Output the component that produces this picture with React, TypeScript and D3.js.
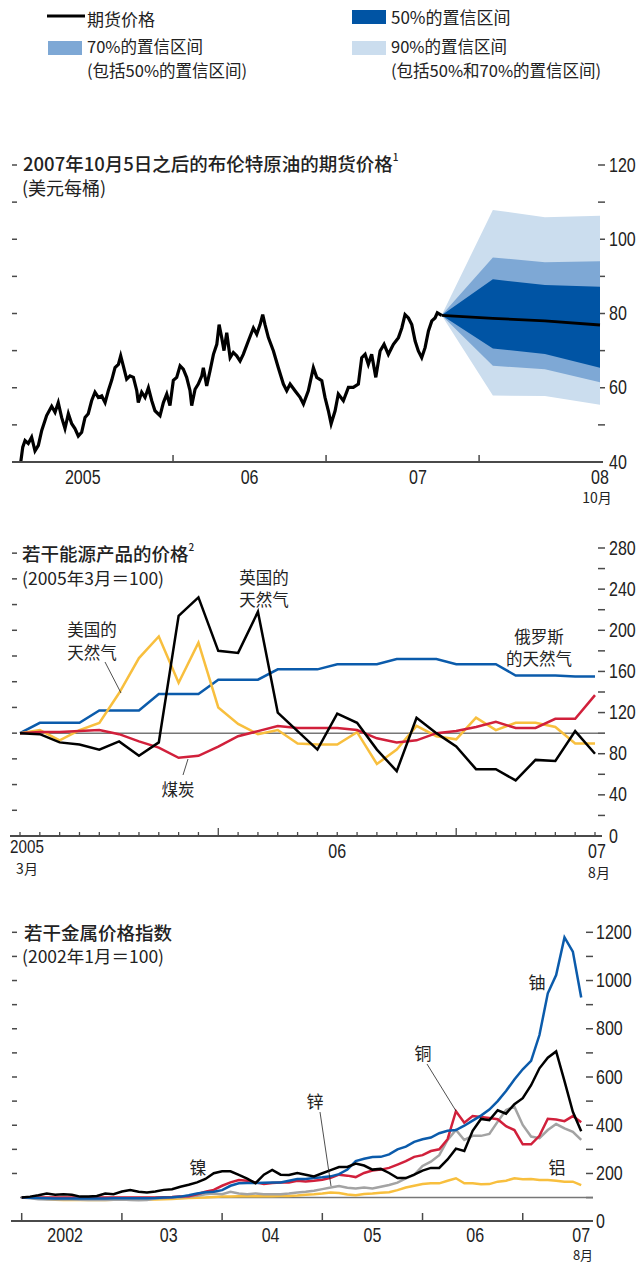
import React from "react";
import * as d3 from "d3";

// ---------- Panel 1: Brent futures ----------
const brentDates = [
  2005.005, 2005.018, 2005.033, 2005.054, 2005.076, 2005.098, 2005.12, 2005.142, 2005.174, 2005.207,
  2005.229, 2005.25, 2005.272, 2005.294, 2005.316, 2005.338, 2005.359, 2005.381, 2005.403, 2005.425,
  2005.446, 2005.468, 2005.49, 2005.512, 2005.534, 2005.556, 2005.577, 2005.599, 2005.621, 2005.643,
  2005.658, 2005.675, 2005.697, 2005.719, 2005.741, 2005.763, 2005.773, 2005.795, 2005.817, 2005.839,
  2005.861, 2005.882, 2005.915, 2005.937, 2005.959, 2005.98, 2006.002, 2006.024, 2006.046, 2006.067,
  2006.089, 2006.111, 2006.122, 2006.144, 2006.165, 2006.188, 2006.198, 2006.22, 2006.242, 2006.264,
  2006.286, 2006.301, 2006.318, 2006.333, 2006.351, 2006.373, 2006.394, 2006.416, 2006.438, 2006.459,
  2006.492, 2006.525, 2006.547, 2006.569, 2006.586, 2006.601, 2006.623, 2006.656, 2006.688, 2006.721,
  2006.743, 2006.765, 2006.797, 2006.83, 2006.852, 2006.884, 2006.917, 2006.939, 2006.972, 2006.993,
  2007.015, 2007.033, 2007.059, 2007.08, 2007.113, 2007.146, 2007.178, 2007.211, 2007.233, 2007.255,
  2007.276, 2007.298, 2007.325, 2007.353, 2007.379, 2007.407, 2007.44, 2007.473, 2007.495, 2007.516,
  2007.538, 2007.56, 2007.582, 2007.603, 2007.625, 2007.647, 2007.669, 2007.691, 2007.712, 2007.727,
  2007.755,
];
const brentPrices = [
  40.0, 44.0, 45.8, 45.0, 46.7, 43.0, 44.5, 48.5, 52.5, 55.0,
  53.4, 56.0, 52.0, 49.0, 53.0, 50.3, 49.0, 47.0, 48.0, 52.0,
  53.0, 56.5, 58.8, 57.4, 57.8, 56.0, 59.2, 62.0, 65.4, 66.3,
  68.6, 65.9, 62.3, 63.2, 62.8, 59.2, 56.0, 58.8, 57.4, 60.0,
  56.5, 53.8, 52.5, 56.0, 58.3, 55.2, 62.0, 62.8, 65.9, 65.0,
  62.8, 59.2, 55.2, 59.6, 61.0, 63.2, 65.4, 60.5, 64.6, 69.0,
  71.7, 77.0, 73.5, 70.0, 74.8, 68.1, 69.5, 68.6, 67.2, 69.0,
  72.6, 76.1, 74.4, 77.0, 79.7, 77.0, 73.5, 69.9, 65.4, 61.0,
  59.2, 61.0, 59.2, 57.4, 55.6, 59.2, 65.4, 62.8, 61.9, 57.4,
  53.8, 50.3, 53.8, 58.3, 56.5, 60.1, 60.1, 61.0, 68.1, 69.0,
  66.3, 69.0, 62.8, 69.9, 71.7, 69.0, 71.7, 73.5, 76.1, 79.7,
  78.8, 77.0, 72.6, 69.9, 68.1, 70.8, 75.3, 78.0, 78.8, 80.2,
  79.5,
];
const fanDates = [2007.755, 2008.09, 2008.43, 2008.79];
const fanMedian = [79.5, 78.7, 78.0, 76.9];
const band50Upper = [79.5, 89.2, 87.7, 87.2];
const band50Lower = [79.5, 70.6, 69.1, 65.4];
const band70Upper = [79.5, 95.1, 93.8, 94.1];
const band70Lower = [79.5, 65.9, 65.0, 61.5];
const band90Upper = [79.5, 107.9, 105.9, 106.3];
const band90Lower = [79.5, 57.9, 57.8, 55.4];
const p1YearTicks = [2006, 2007, 2008];
const p1YearLabels = ["2005", "06", "07", "08"];
const p1YearLabelDates = [2005.41, 2006.5, 2007.6, 2008.79];
const p1RightMajor = [40, 60, 80, 100, 120];
const p1Minor = [50, 60, 70, 80, 90, 100, 110, 120];

// ---------- Panel 2: energy (monthly, Mar 2005 - Aug 2007) ----------
const russianGas = [100, 110, 110, 110, 122, 122, 122, 138, 138, 138, 152, 152, 152, 162, 162, 162, 167, 167, 167, 172, 172, 172, 167, 167, 167, 156, 156, 156, 155, 155];
const usGas = [100, 103, 93, 103, 110, 139, 173, 194, 149, 188, 125, 109, 99, 103, 90, 89, 89, 101, 70, 84, 107, 97, 94, 115, 103, 110, 110, 106, 90, 90];
const ukGas = [100, 99, 91, 89, 84, 92, 78, 91, 214, 232, 180, 178, 218, 120, 102, 84, 119, 110, 84, 63, 115, 100, 87, 65, 65, 54, 74, 73, 102, 80];
const coal = [100, 101, 101, 102, 103, 99, 92, 86, 76, 78, 87, 97, 102, 107, 105, 105, 105, 103, 95, 91, 93, 100, 102, 106, 111, 105, 105, 114, 114, 137];
const p2YearTickMonths = [10, 22];
const p2RightMajor = [0, 40, 80, 120, 160, 200, 240, 280];
const p2RightMinor = [20, 60, 100, 140, 180, 220, 260];
const p2LeftTicks = [25, 50, 75, 100, 125, 150, 175, 200, 225, 250, 275];

// ---------- Panel 3: metals (monthly, Jan 2002 - Aug 2007) ----------
const nickel = [
  100, 104, 110, 117, 112, 114, 112, 104, 104, 107, 117, 114,
  125, 131, 124, 121, 125, 132, 135, 145, 153, 163, 177, 201,
  209, 209, 194, 179, 160, 195, 215, 195, 194, 202, 195, 188,
  201, 214, 227, 227, 241, 233, 216, 219, 202, 181, 181, 195,
  212, 223, 223, 258, 303, 293, 377, 426, 421, 462, 448, 487,
  512, 566, 636, 680, 706, 583, 456, 375,
];
const uranium = [
  100, 99, 98, 97, 96, 96, 96, 96, 96, 96, 96, 97,
  97, 97, 97, 97, 98, 100, 101, 104, 110, 117, 122, 124,
  131, 149, 159, 160, 160, 162, 163, 163, 170, 177, 177, 181,
  184, 188, 197, 216, 251, 261, 268, 269, 279, 300, 311, 331,
  342, 349, 367, 377, 380, 398, 419, 440, 465, 500, 542, 590,
  632, 667, 774, 947, 1023, 1179, 1120, 930,
];
const copper = [
  100, 100, 100, 100, 100, 100, 100, 100, 100, 100, 100, 100,
  100, 100, 100, 100, 100, 101, 102, 104, 106, 114, 124, 132,
  149, 163, 173, 170, 163, 156, 160, 163, 163, 170, 167, 170,
  174, 182, 195, 191, 185, 202, 212, 216, 223, 237, 251, 269,
  276, 293, 300, 342, 458, 410, 438, 434, 430, 425, 396, 380,
  321, 321, 356, 427, 424, 417, 438, 412,
];
const zinc = [
  100, 97, 93, 92, 92, 92, 92, 91, 90, 90, 90, 91,
  92, 90, 89, 90, 96, 98, 100, 101, 103, 108, 114, 117,
  114, 124, 117, 114, 117, 114, 114, 114, 117, 121, 124, 128,
  135, 142, 148, 141, 138, 142, 138, 145, 152, 162, 180, 194,
  231, 249, 276, 339, 380, 339, 356, 356, 364, 415, 463, 477,
  401, 353, 346, 380, 405, 387, 373, 339,
];
const aluminium = [
  100, 99, 97, 94, 91, 90, 90, 90, 90, 90, 90, 91,
  93, 93, 92, 92, 92, 93, 94, 96, 98, 99, 100, 102,
  104, 105, 106, 107, 106, 106, 106, 107, 107, 109, 112, 114,
  117, 121, 119, 113, 110, 115, 117, 120, 122, 131, 142, 149,
  156, 159, 159, 170, 180, 159, 159, 155, 156, 166, 170, 180,
  176, 177, 173, 173, 170, 166, 166, 152,
];
const p3YearTickMonths = [0, 12, 24, 36, 48, 60];
const p3YearLabels = ["2002", "03", "04", "05", "06", "07"];
const p3YearLabelMonths = [5.2, 17.6, 29.8, 42, 54.3, 67];
const p3RightMajor = [0, 200, 400, 600, 800, 1000, 1200];
const p3RightMinor = [100, 300, 500, 700, 900, 1100];
const p3LeftTicks = [200, 300, 400, 500, 600, 700, 800, 900, 1000, 1100, 1200];

const NUM = "'Liberation Sans', Arial, sans-serif";
const CJK = "'Noto Sans CJK SC', sans-serif";
const AXIS = "#4a4a4a";
const BLUE = "#0b5bab";
const YELLOW = "#f8bf3e";
const RED = "#d1203b";
const GRAY = "#a3a3a3";
const C50 = "#0054a4";
const C70 = "#7ea8d5";
const C90 = "#cbddee";
const SQUEEZE = 0.8;

export default function App() {
  // Panel 1 scales
  const x1 = d3.scaleLinear().domain([2005, 2008.79]).range([20, 600]);
  const y1 = d3.scaleLinear().domain([40, 120]).range([462, 165]);
  const brentLine = d3
    .line<number>()
    .x((_, i) => x1(brentDates[i]))
    .y((d) => y1(d))(brentPrices);
  const band = (up: number[], lo: number[]) =>
    d3
      .area<number>()
      .x((_, i) => x1(fanDates[i]))
      .y0((_, i) => y1(lo[i]))
      .y1((_, i) => y1(up[i]))(fanDates);
  const medianLine = d3
    .line<number>()
    .x((_, i) => x1(fanDates[i]))
    .y((d) => y1(d))(fanMedian);

  // Panel 2 scales
  const x2 = d3.scaleLinear().domain([0, 29]).range([20, 595]);
  const y2 = d3.scaleLinear().domain([0, 280]).range([836, 548]);
  const line2 = (arr: number[]) =>
    d3
      .line<number>()
      .x((_, i) => x2(i))
      .y((d) => y2(d))(arr);

  // Panel 3 scales
  const x3 = d3.scaleLinear().domain([0, 67]).range([21.7, 581.2]);
  const y3 = d3.scaleLinear().domain([0, 1200]).range([1221.7, 932.3]);
  const line3 = (arr: number[]) =>
    d3
      .line<number>()
      .x((_, i) => x3(i))
      .y((d) => y3(d))(arr);

  const txt = (x: number, y: number, s: string, size = 17, anchor = "start", key?: string, weight = 400) => (
    <text
      key={key}
      x={x}
      y={y}
      fontSize={size}
      fontFamily={CJK}
      fontWeight={weight}
      textAnchor={anchor}
      dominantBaseline="central"
      fill="#222"
    >
      {s}
    </text>
  );
  const num = (x: number, y: number, s: string, size = 20, anchor = "start", key?: string) => (
    <text
      key={key}
      transform={`translate(${x},${y}) scale(${SQUEEZE},1)`}
      fontSize={size}
      fontFamily={NUM}
      textAnchor={anchor}
      dominantBaseline="central"
      fill="#222"
    >
      {s}
    </text>
  );

  return (
    <svg width={639} height={1263} style={{ position: "absolute", left: 0, top: 0, background: "#fff" }}>
      <rect width={639} height={1263} fill="#fff" />
      {/* Legend */}
      <line x1={47} x2={85} y1={16} y2={16} stroke="#000" strokeWidth={3} />
      {txt(87, 18, "期货价格")}
      <rect x={352} y={10} width={34} height={14} fill={C50} />
      {txt(391, 16, "50%的置信区间")}
      <rect x={48} y={41} width={34} height={14} fill={C70} />
      {txt(87, 46, "70%的置信区间", 16.5)}
      {txt(87, 70, "(包括50%的置信区间)", 16.5)}
      <rect x={352} y={41} width={34} height={14} fill={C90} />
      {txt(391, 46, "90%的置信区间", 16.5)}
      {txt(391, 70, "(包括50%和70%的置信区间)", 16.5)}

      {/* ===== Panel 1 ===== */}
      <text x={23} y={163} fontSize={18.5} fontWeight={500} fontFamily={CJK} dominantBaseline="central" fill="#222">
        2007年10月5日之后的布伦特原油的期货价格
        <tspan fontSize={10} dy={-7}>1</tspan>
      </text>
      {txt(22, 187, "(美元每桶)", 18, "start")}
      {p1Minor.map((v) => (
        <line key={"l1" + v} x1={12} x2={17} y1={y1(v)} y2={y1(v)} stroke={AXIS} strokeWidth={1.5} />
      ))}
      {[50, 60, 70, 80, 90, 100, 110, 120].map((v) => (
        <line key={"r1" + v} x1={598} x2={605} y1={y1(v)} y2={y1(v)} stroke={AXIS} strokeWidth={1.5} />
      ))}
      {p1RightMajor.map((v) => num(609, y1(v), String(v), 20, "start", "rl1" + v))}
      <path d={band(band90Upper, band90Lower) || ""} fill={C90} />
      <path d={band(band70Upper, band70Lower) || ""} fill={C70} />
      <path d={band(band50Upper, band50Lower) || ""} fill={C50} />
      <path d={brentLine || ""} fill="none" stroke="#000" strokeWidth={3.2} strokeLinejoin="miter" />
      <path d={medianLine || ""} fill="none" stroke="#000" strokeWidth={2.8} />
      <line x1={12} x2={603} y1={462} y2={462} stroke={AXIS} strokeWidth={2} />
      {p1YearTicks.map((t) => (
        <line key={"t1" + t} x1={x1(t)} x2={x1(t)} y1={455} y2={462} stroke={AXIS} strokeWidth={1.5} />
      ))}
      {p1YearLabels.map((s, i) => num(x1(p1YearLabelDates[i]), 477, s, 20, "middle", "yl1" + s))}
      {txt(597, 497, "10月", 14, "middle")}

      {/* ===== Panel 2 ===== */}
      <text x={22} y={553} fontSize={18.5} fontWeight={500} fontFamily={CJK} dominantBaseline="central" fill="#222">
        若干能源产品的价格
        <tspan fontSize={10} dy={-7}>2</tspan>
      </text>
      {txt(22, 577, "(2005年3月＝100)", 17.5, "start")}
      {p2LeftTicks.map((v) => (
        <line key={"l2" + v} x1={12} x2={17} y1={y2(v)} y2={y2(v)} stroke={AXIS} strokeWidth={1.5} />
      ))}
      {[...p2RightMajor, ...p2RightMinor].filter((v) => v > 0).map((v) => (
        <line key={"r2" + v} x1={598} x2={605} y1={y2(v)} y2={y2(v)} stroke={AXIS} strokeWidth={1.5} />
      ))}
      {p2RightMajor.map((v) => num(609, y2(v), String(v), 20, "start", "rl2" + v))}
      <line x1={20} x2={598} y1={y2(100)} y2={y2(100)} stroke="#777" strokeWidth={1.5} />
      <path d={line2(russianGas) || ""} fill="none" stroke={BLUE} strokeWidth={2.5} />
      <path d={line2(usGas) || ""} fill="none" stroke={YELLOW} strokeWidth={2.5} />
      <path d={line2(coal) || ""} fill="none" stroke={RED} strokeWidth={2.5} />
      <path d={line2(ukGas) || ""} fill="none" stroke="#000" strokeWidth={2.5} />
      <line x1={10} x2={602} y1={836} y2={836} stroke={AXIS} strokeWidth={2} />
      {russianGas.map((_, i) => (
        <line
          key={"t2" + i}
          x1={x2(i)}
          x2={x2(i)}
          y1={p2YearTickMonths.includes(i) ? 828 : 832}
          y2={836}
          stroke={AXIS}
          strokeWidth={1.3}
        />
      ))}
      {num(27, 846, "2005", 19, "middle")}
      {txt(27, 868, "3月", 14, "middle")}
      {num(x2(16), 851, "06", 20, "middle")}
      {num(597, 851, "07", 20, "middle")}
      {txt(599, 872, "8月", 14, "middle")}
      {/* labels */}
      {txt(92, 629, "美国的", 16.5, "middle")}
      {txt(92, 652, "天然气", 16.5, "middle")}
      <line x1={105} y1={662} x2={121} y2={693} stroke="#222" strokeWidth={0.8} />
      {txt(264, 577, "英国的", 16.5, "middle")}
      {txt(264, 599, "天然气", 16.5, "middle")}
      {txt(178, 789, "煤炭", 16.5, "middle")}
      <line x1={183} y1={775} x2={188} y2={759} stroke="#222" strokeWidth={0.8} />
      {txt(539, 636, "俄罗斯", 16.5, "middle")}
      {txt(539, 658, "的天然气", 16.5, "middle")}

      {/* ===== Panel 3 ===== */}
      {txt(24, 932, "若干金属价格指数", 18.5, "start", undefined, 500)}
      {txt(22, 955, "(2002年1月＝100)", 17.5, "start")}
      {p3LeftTicks.map((v) => (
        <line key={"l3" + v} x1={12} x2={17} y1={y3(v)} y2={y3(v)} stroke={AXIS} strokeWidth={1.5} />
      ))}
      {[...p3RightMajor, ...p3RightMinor].filter((v) => v > 0).map((v) => (
        <line key={"r3" + v} x1={586} x2={593} y1={y3(v)} y2={y3(v)} stroke={AXIS} strokeWidth={1.5} />
      ))}
      {p3RightMajor.map((v) => num(596, y3(v), String(v), 20, "start", "rl3" + v))}
      <line x1={20} x2={593} y1={y3(100)} y2={y3(100)} stroke="#777" strokeWidth={1.5} />
      <path d={line3(aluminium) || ""} fill="none" stroke={YELLOW} strokeWidth={2.5} />
      <path d={line3(zinc) || ""} fill="none" stroke={GRAY} strokeWidth={2.5} />
      <path d={line3(copper) || ""} fill="none" stroke={RED} strokeWidth={2.5} />
      <path d={line3(uranium) || ""} fill="none" stroke={BLUE} strokeWidth={2.5} />
      <path d={line3(nickel) || ""} fill="none" stroke="#000" strokeWidth={2.5} />
      <line x1={11} x2={593} y1={1221} y2={1221} stroke={AXIS} strokeWidth={2} />
      {p3YearTickMonths.map((m) => (
        <line key={"t3" + m} x1={x3(m)} x2={x3(m)} y1={1213} y2={1221} stroke={AXIS} strokeWidth={1.5} />
      ))}
      {p3YearLabels.map((s, i) => num(x3(p3YearLabelMonths[i]), 1235, s, 20, "middle", "yl3" + s))}
      {txt(583, 1254, "8月", 13, "middle")}
      {/* labels */}
      {txt(198, 1166, "镍", 17, "middle")}
      {txt(315, 1100, "锌", 17, "middle")}
      <line x1={320} y1={1112} x2={331} y2={1186} stroke="#222" strokeWidth={0.8} />
      {txt(423, 1052, "铜", 17, "middle")}
      <line x1={427} y1={1064} x2={456} y2={1111} stroke="#222" strokeWidth={0.8} />
      {txt(537, 981, "铀", 17, "middle")}
      {txt(557, 1166, "铝", 17, "middle")}
    </svg>
  );
}
